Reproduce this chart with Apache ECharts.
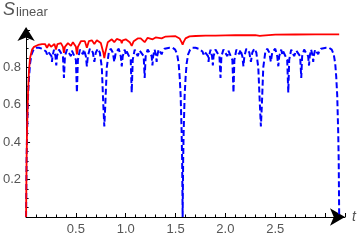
<!DOCTYPE html>
<html>
<head>
<meta charset="utf-8">
<script src="https://cdn.jsdelivr.net/npm/echarts@6/dist/echarts.min.js"></script>
<style>html,body{margin:0;padding:0;background:#fff}#c{width:360px;height:240px}</style>
</head>
<body>
<div id="c"></div>
<script>
// x tick labels shown
var xTickLabels = [0.5, 1.0, 1.5, 2.0, 2.5];
var yTickLabels = [0.2, 0.4, 0.6, 0.8];

// blue dashed series, first period [0, pi/2]: [t, S]
var blueA = [
[0,0],[0.005,0.3],[0.01,0.45],[0.02,0.65],[0.03,0.75],[0.04,0.82],[0.055,0.87],[0.075,0.895],[0.10,0.905],
[0.13,0.905],[0.15,0.895],[0.16,0.9],[0.18,0.9],[0.2,0.885],[0.21,0.87],[0.22,0.885],[0.24,0.895],
[0.255,0.86],[0.26,0.83],[0.265,0.86],[0.28,0.895],[0.295,0.86],[0.303,0.81],[0.31,0.86],[0.33,0.895],
[0.34,0.885],[0.35,0.895],[0.37,0.86],[0.38,0.744],[0.39,0.86],[0.41,0.895],[0.43,0.89],[0.45,0.86],
[0.46,0.89],[0.48,0.895],[0.50,0.84],[0.51,0.665],[0.52,0.84],[0.54,0.895],[0.56,0.885],[0.57,0.87],
[0.58,0.895],[0.60,0.86],[0.61,0.806],[0.62,0.86],[0.64,0.9],[0.67,0.88],[0.685,0.83],[0.70,0.88],
[0.72,0.9],[0.74,0.88],[0.76,0.8],[0.775,0.6],[0.785,0.484],[0.795,0.6],[0.81,0.8],[0.83,0.88],
[0.85,0.9],[0.87,0.88],[0.885,0.83],[0.90,0.88],[0.93,0.9],[0.95,0.86],[0.96,0.806],[0.97,0.86],
[0.99,0.895],[1.00,0.87],[1.01,0.885],[1.03,0.895],[1.05,0.84],[1.06,0.665],[1.07,0.84],[1.09,0.895],
[1.11,0.89],[1.12,0.86],[1.14,0.89],[1.16,0.895],[1.18,0.86],[1.19,0.744],[1.20,0.86],[1.22,0.895],
[1.23,0.885],[1.24,0.895],[1.26,0.86],[1.268,0.81],[1.275,0.86],[1.29,0.895],[1.305,0.86],[1.31,0.83],
[1.315,0.86],[1.33,0.895],[1.35,0.885],[1.36,0.87],[1.37,0.885],[1.39,0.9],[1.41,0.895],[1.44,0.905],
[1.47,0.905],[1.496,0.895],[1.516,0.87],[1.531,0.82],[1.541,0.75],[1.551,0.65],[1.561,0.45],[1.566,0.3],[1.571,0]
];
// blue dashed series, second period [pi/2, pi]
var blueB = [
[1.576,0.3],[1.581,0.45],[1.591,0.65],[1.601,0.75],[1.611,0.82],[1.626,0.87],[1.646,0.895],[1.671,0.905],
[1.70,0.905],[1.72,0.895],[1.73,0.9],[1.75,0.9],[1.77,0.885],[1.78,0.87],[1.79,0.885],[1.81,0.895],
[1.826,0.86],[1.831,0.83],[1.836,0.86],[1.851,0.895],[1.866,0.86],[1.874,0.81],[1.881,0.86],[1.90,0.895],
[1.91,0.885],[1.92,0.895],[1.94,0.86],[1.951,0.744],[1.96,0.86],[1.98,0.895],[2.00,0.89],[2.02,0.86],
[2.03,0.89],[2.05,0.895],[2.07,0.84],[2.081,0.665],[2.09,0.84],[2.11,0.895],[2.13,0.885],[2.14,0.87],
[2.15,0.895],[2.17,0.86],[2.181,0.806],[2.19,0.86],[2.21,0.9],[2.24,0.88],[2.256,0.83],[2.27,0.88],
[2.29,0.9],[2.31,0.88],[2.33,0.8],[2.346,0.6],[2.356,0.484],[2.366,0.6],[2.38,0.8],[2.40,0.88],
[2.42,0.9],[2.44,0.88],[2.456,0.83],[2.47,0.88],[2.50,0.9],[2.52,0.86],[2.531,0.806],[2.54,0.86],
[2.56,0.895],[2.57,0.87],[2.58,0.885],[2.60,0.895],[2.62,0.84],[2.631,0.665],[2.64,0.84],[2.66,0.895],
[2.68,0.89],[2.69,0.86],[2.71,0.89],[2.73,0.895],[2.75,0.86],[2.761,0.744],[2.77,0.86],[2.79,0.895],
[2.80,0.885],[2.81,0.895],[2.83,0.86],[2.839,0.81],[2.846,0.86],[2.86,0.895],[2.876,0.86],[2.881,0.83],
[2.886,0.86],[2.90,0.895],[2.92,0.885],[2.931,0.87],[2.94,0.885],[2.96,0.9],[2.98,0.895],[3.01,0.905],
[3.04,0.905],[3.067,0.895],[3.087,0.87],[3.102,0.82],[3.112,0.75],[3.122,0.65],[3.132,0.45],[3.137,0.3],[3.1416,0]
];

// red solid series: [t, S]
var red = [
[0,0],[0.005,0.3],[0.01,0.47],[0.02,0.67],[0.03,0.79],[0.04,0.85],[0.06,0.895],[0.08,0.91],[0.12,0.92],
[0.16,0.925],[0.19,0.925],[0.21,0.905],[0.23,0.925],[0.25,0.91],[0.26,0.9],[0.27,0.915],[0.285,0.925],
[0.30,0.895],[0.315,0.925],[0.35,0.93],[0.37,0.91],[0.38,0.878],[0.39,0.91],[0.42,0.93],[0.45,0.915],
[0.47,0.935],[0.50,0.91],[0.51,0.87],[0.52,0.91],[0.55,0.94],[0.57,0.93],[0.59,0.94],[0.61,0.905],
[0.63,0.94],[0.66,0.945],[0.685,0.925],[0.71,0.945],[0.75,0.93],[0.775,0.88],[0.785,0.85],[0.795,0.88],
[0.82,0.935],[0.86,0.95],[0.885,0.935],[0.91,0.952],[0.95,0.945],[0.96,0.93],[0.97,0.945],[1.0,0.95],
[1.04,0.935],[1.06,0.915],[1.08,0.94],[1.12,0.955],[1.15,0.955],[1.19,0.935],[1.22,0.958],[1.27,0.95],
[1.3,0.96],[1.36,0.955],[1.4,0.965],[1.5,0.967],[1.54,0.955],[1.56,0.935],[1.571,0.922],[1.58,0.935],
[1.6,0.955],[1.64,0.966],[1.7,0.968],[1.8,0.97],[1.9,0.97],[2.0,0.971],[2.1,0.972],[2.3,0.973],
[2.345,0.968],[2.356,0.966],[2.37,0.97],[2.5,0.975],[2.7,0.976],[2.9,0.977],[3.1,0.977],[3.1416,0.977]
];

var blue = blueA.concat(blueB);
var labelColor = '#555';
var font = 'Liberation Sans';
var chart = echarts.init(document.getElementById('c'), null, {renderer: 'canvas'});
chart.setOption({
  animation: false,
  backgroundColor: '#fff',
  grid: {left: 25, width: 320, top: 30, height: 187},
  xAxis: {
    type: 'value', min: 0, max: 3.2, interval: 0.5,
    name: 't', nameLocation: 'end', nameGap: 7,
    nameTextStyle: {fontStyle: 'italic', fontSize: 14, color: labelColor, fontFamily: font},
    splitLine: {show: false},
    axisLine: {lineStyle: {color: '#000', width: 1}, symbol: ['none', 'arrow'], symbolSize: [13, 15], symbolOffset: [0, 0]},
    axisTick: {inside: true, length: 4, lineStyle: {color: '#000'}},
    minorTick: {show: true, splitNumber: 5, length: 2.5, lineStyle: {color: '#000'}},
    axisLabel: {
      margin: 6, fontSize: 13, color: labelColor, fontFamily: font,
      formatter: function (v) { for (var i = 0; i < xTickLabels.length; i++) { if (Math.abs(v - xTickLabels[i]) < 1e-6) return xTickLabels[i].toFixed(1); } return ''; }
    }
  },
  yAxis: {
    type: 'value', min: 0, max: 1.0, interval: 0.2,
    splitLine: {show: false},
    axisLine: {lineStyle: {color: '#000', width: 1}, symbol: ['none', 'arrow'], symbolSize: [13, 14], symbolOffset: [0, 3]},
    axisTick: {inside: true, length: 4, lineStyle: {color: '#000'}},
    minorTick: {show: true, splitNumber: 4, length: 2.5, lineStyle: {color: '#000'}},
    axisLabel: {
      margin: 5, fontSize: 13, color: labelColor, fontFamily: font,
      formatter: function (v) { for (var i = 0; i < yTickLabels.length; i++) { if (Math.abs(v - yTickLabels[i]) < 1e-6) return yTickLabels[i].toFixed(1); } return ''; }
    }
  },
  graphic: [
    {type: 'text', left: 3, top: 1, style: {text: 'S', fontStyle: 'italic', fontSize: 18, fill: labelColor, fontFamily: font}},
    {type: 'text', left: 16, top: 6, style: {text: 'linear', fontSize: 13, fill: labelColor, fontFamily: font}}
  ],
  series: [
    {type: 'line', data: blue, showSymbol: false, lineStyle: {color: '#0000ff', width: 2, type: [6, 3]}, z: 2},
    {type: 'line', data: red, showSymbol: false, lineStyle: {color: '#ff0000', width: 1.8}, z: 3}
  ]
});
</script>
</body>
</html>
